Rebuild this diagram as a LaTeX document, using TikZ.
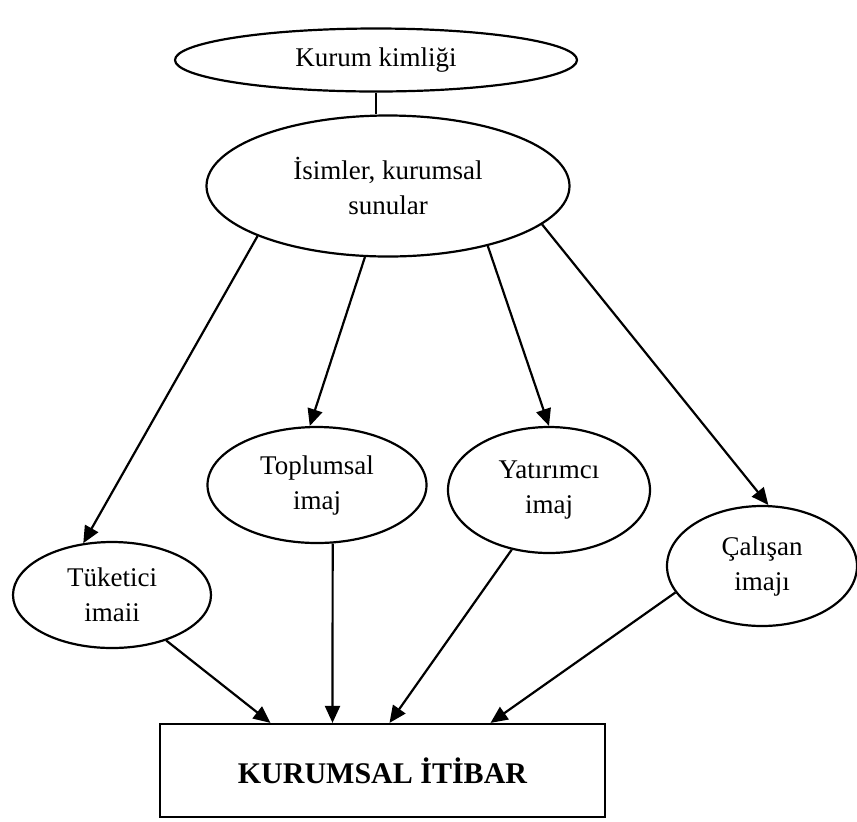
\documentclass[tikz,border=0pt]{standalone}
\usepackage{fontspec}
\setmainfont{Liberation Serif}
\usetikzlibrary{shapes.geometric,arrows.meta}
\tikzstyle{oval}=[draw=black,ellipse,line width=1.1pt,inner sep=0pt,align=center,font=\fontsize{13.5}{17.5}\selectfont]
\tikzstyle{result}=[draw=black,rectangle,line width=1.1pt,font=\fontsize{15}{18}\selectfont\bfseries]
\tikzstyle{link}=[line width=1.1pt,-{Triangle[length=8.5pt,width=7.5pt]}]

\begin{document}
\begin{tikzpicture}[x=0.5pt,y=-0.5pt]
\useasboundingbox (0,0) rectangle (857,821);
% ovals
\node[oval,minimum width=201pt,minimum height=31.5pt] (kimlik) at (376,60) {Kurum kimliği};
\node[oval,minimum width=181.5pt,minimum height=70.5pt] (isim) at (388,186) {İsimler, kurumsal\\sunular};
\node[oval,minimum width=99pt,minimum height=53pt] (tuketici) at (112,595) {Tüketici\\imaii};
\node[oval,minimum width=109.5pt,minimum height=58pt] (toplum) at (317,485) {Toplumsal\\imaj};
\node[oval,minimum width=101pt,minimum height=63pt] (yatirim) at (549,490) {Yatırımcı\\imaj};
\node[oval,minimum width=95pt,minimum height=60pt] (calisan) at (762,566) {Çalışan\\imajı};
% result box
\node[result,minimum width=222.5pt,minimum height=46.5pt] (itibar) at (382.5,770.5) {KURUMSAL İTİBAR};
% connectors
\draw[line width=1.1pt] (kimlik.south) -- (kimlik.south |- isim.north);
\draw[link] (isim.201) -- (tuketici.119);
\draw[link] (isim.252) -- (toplum.97);
\draw[link] (isim.329) -- (yatirim.90);
\draw[link] (isim.346) -- (calisan.84);
\draw[link] (tuketici.-40) -- ([xshift=-56pt]itibar.north);
\draw[link] (toplum.-75) -- ([xshift=-25pt]itibar.north);
\draw[link] (yatirim.238) -- ([xshift=3.5pt]itibar.north);
\draw[link] (calisan.197) -- ([xshift=54pt]itibar.north);
\end{tikzpicture}
\end{document}
